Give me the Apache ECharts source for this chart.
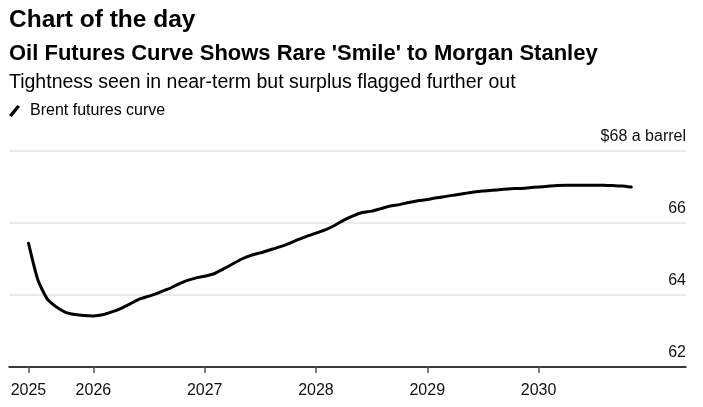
<!DOCTYPE html>
<html lang="en">
<head>
    <meta charset="UTF-8">
    <title>Oil Futures Curve</title>
    <style>
        body { margin: 0; background: #fff; }
    </style>
</head>
<body>
    <div id="card" style="width: 703px;height:407px;"></div>
    <script src="https://cdn.jsdelivr.net/npm/echarts@6/dist/echarts.min.js"></script>
    <script>
        // monthly Brent contracts, Jun 2025 .. Nov 2030
        var contracts = [
            '2025-06', '2025-07', '2025-08', '2025-09', '2025-10', '2025-11', '2025-12',
            '2026-01', '2026-02', '2026-03', '2026-04', '2026-05', '2026-06', '2026-07', '2026-08', '2026-09', '2026-10', '2026-11', '2026-12',
            '2027-01', '2027-02', '2027-03', '2027-04', '2027-05', '2027-06', '2027-07', '2027-08', '2027-09', '2027-10', '2027-11', '2027-12',
            '2028-01', '2028-02', '2028-03', '2028-04', '2028-05', '2028-06', '2028-07', '2028-08', '2028-09', '2028-10', '2028-11', '2028-12',
            '2029-01', '2029-02', '2029-03', '2029-04', '2029-05', '2029-06', '2029-07', '2029-08', '2029-09', '2029-10', '2029-11', '2029-12',
            '2030-01', '2030-02', '2030-03', '2030-04', '2030-05', '2030-06', '2030-07', '2030-08', '2030-09', '2030-10', '2030-11'
        ];
        var brent = [
            65.44, 64.43, 63.9, 63.67, 63.52, 63.46, 63.43,
            63.42, 63.45, 63.53, 63.63, 63.76, 63.89, 63.97, 64.06, 64.16, 64.28, 64.39, 64.47,
            64.52, 64.59, 64.72, 64.86, 65.0, 65.1, 65.17, 65.25, 65.33, 65.42, 65.53, 65.63,
            65.72, 65.81, 65.93, 66.08, 66.2, 66.29, 66.33, 66.4, 66.47, 66.51, 66.57, 66.62,
            66.65, 66.7, 66.74, 66.78, 66.82, 66.86, 66.89, 66.91, 66.93, 66.95, 66.96, 66.98,
            67.0, 67.02, 67.04, 67.05, 67.05, 67.05, 67.05, 67.05, 67.04, 67.03, 67.0
        ];
        var yearTicks = ['2025-06', '2026-01', '2027-01', '2028-01', '2029-01', '2030-01'];
        var yearLabels = ['2025', '2026', '2027', '2028', '2029', '2030'];

        var font = '"Liberation Sans", Arial, sans-serif';
        var monthIndex = function (c) {
            return contracts.indexOf(c);
        };
        var tickValues = yearTicks.map(monthIndex);
        var seriesData = contracts.map(function (c, i) {
            return [i, brent[i]];
        });

        var option = {
            backgroundColor: '#fff',
            animation: false,
            title: [{
                text: 'Chart of the day',
                left: 9, top: 8, padding: 0,
                textStyle: { fontFamily: font, fontSize: 24.5, fontWeight: 'bold', color: '#000' }
            }, {
                text: "Oil Futures Curve Shows Rare 'Smile' to Morgan Stanley",
                left: 9, top: 42.5, padding: 0,
                textStyle: { fontFamily: font, fontSize: 22, fontWeight: 'bold', color: '#000' }
            }, {
                text: 'Tightness seen in near-term but surplus flagged further out',
                left: 9, top: 72.5, padding: 0,
                textStyle: { fontFamily: font, fontSize: 19.5, fontWeight: 'normal', color: '#000' }
            }],
            legend: {
                left: 9, top: 103, padding: 0,
                itemWidth: 13, itemHeight: 12,
                icon: 'path://M0,11 L9,0 L12,2 L3,13 Z',
                textStyle: { fontFamily: font, fontSize: 16, color: '#000', padding: [0, 0, 0, 4] },
                data: [{ name: 'Brent futures curve', itemStyle: { color: '#000' } }]
            },
            grid: { left: 9, right: 17, top: 151, bottom: 40 },
            xAxis: {
                type: 'value',
                min: -2.1,
                max: 70.9,
                splitLine: { show: false },
                axisLine: { show: true, onZero: false, lineStyle: { color: '#000', width: 1.5 } },
                axisTick: {
                    show: true, length: 6, customValues: tickValues,
                    lineStyle: { color: '#555', width: 1.5 }
                },
                axisLabel: {
                    customValues: tickValues,
                    margin: 16,
                    fontFamily: font, fontSize: 16, color: '#111',
                    formatter: function (v) {
                        var k = tickValues.indexOf(Math.round(v));
                        return k >= 0 ? yearLabels[k] : '';
                    }
                }
            },
            yAxis: {
                type: 'value',
                position: 'right',
                min: 62, max: 68, interval: 2,
                axisLine: { show: false },
                axisTick: { show: false },
                splitLine: { lineStyle: { color: '#e3e3e3', width: 1.5 } },
                axisLabel: {
                    inside: true,
                    margin: 0,
                    verticalAlign: 'bottom',
                    padding: [0, 0, 6, 0],
                    fontFamily: font, fontSize: 16, color: '#111',
                    formatter: function (v) {
                        return v === 68 ? '$68 a barrel' : String(v);
                    }
                }
            },
            series: [{
                name: 'Brent futures curve',
                type: 'line',
                data: seriesData,
                showSymbol: false,
                smooth: 0.2,
                lineStyle: { color: '#000', width: 3, join: 'round', cap: 'round' },
                itemStyle: { color: '#000' }
            }]
        };

        var myChart = echarts.init(document.querySelector('#card'));
        myChart.setOption(option);
    </script>
</body>
</html>
